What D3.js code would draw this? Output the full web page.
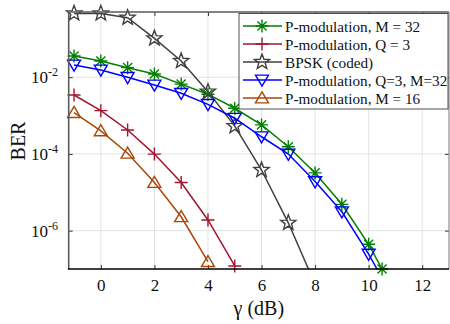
<!DOCTYPE html>
<html><head><meta charset="utf-8">
<script src="https://cdn.jsdelivr.net/npm/d3@7"></script>
<style>body{margin:0;background:#fff}svg{display:block}text{font-family:"Liberation Serif","Times New Roman",serif}</style>
</head><body>
<svg id="c" width="450" height="324"></svg>
<script>
// ---- data ----
const xTicks = [0, 2, 4, 6, 8, 10, 12];
const yTickExps = [-2, -4, -6];
const seriesNames = ["P-modulation, M = 32", "P-modulation, Q = 3", "BPSK (coded)", "P-modulation, Q=3, M=32", "P-modulation, M = 16"];
const seriesColors = ["#008000", "#A2142F", "#404040", "#0000FF", "#A84708"];
const seriesMarkers = ["asterisk", "plus", "star", "triDown", "triUp"];

const xM32 = [-1, 0, 1, 2, 3, 4, 5, 6, 7, 8, 9, 10, 10.5];
const yM32 = [0.0356, 0.0264, 0.0177, 0.0121, 6.6e-3, 3.6e-3, 1.55e-3, 5.7e-4, 1.54e-4, 3.2e-5, 4.85e-6, 4.4e-7, 1.0e-7];
const xQ3 = [-1, 0, 1, 2, 3, 4, 5];
const yQ3 = [3.43e-3, 1.34e-3, 4.2e-4, 9.9e-5, 1.8e-5, 1.9e-6, 1.2e-7];
const xBPSK = [-1, 0, 1, 2, 3, 4, 5, 6, 7, 8];
const yBPSK = [0.46, 0.46, 0.355, 0.103, 0.0264, 4.2e-3, 5.3e-4, 3.8e-5, 1.6e-6, 4e-8];
const xQ3M32 = [-1, 0, 1, 2, 3, 4, 5, 6, 7, 8, 9, 10, 10.5];
const yQ3M32 = [0.0208, 0.0154, 9.9e-3, 6.25e-3, 3.8e-3, 1.96e-3, 8.5e-4, 2.8e-4, 9.9e-5, 1.9e-5, 3.1e-6, 2.45e-7, 5.8e-8];
const xM16 = [-1, 0, 1, 2, 3, 4];
const yM16 = [1.19e-3, 4.0e-4, 1.04e-4, 1.8e-5, 2.3e-6, 1.55e-7];

const seriesX = [xM32, xQ3, xBPSK, xQ3M32, xM16];
const seriesY = [yM32, yQ3, yBPSK, yQ3M32, yM16];

// ---- layout ----
const L = 68.7, R = 449, T = 12, B = 269;
const svg = d3.select("#c");
const x = d3.scaleLinear().domain([-1.2, 13]).range([L, R]);
const y = d3.scaleLog().domain([1e-7, 0.5]).range([B, T]);

svg.append("defs").append("clipPath").attr("id", "clip")
  .append("rect").attr("x", L).attr("y", T).attr("width", R - L).attr("height", B - T);

// grid
const g = svg.append("g");
g.selectAll(".gx").data(xTicks).join("line")
  .attr("x1", d => x(d)).attr("x2", d => x(d)).attr("y1", T).attr("y2", B)
  .attr("stroke", "#e3e3e3").attr("stroke-width", 1);
g.selectAll(".gy").data(yTickExps).join("line")
  .attr("x1", L).attr("x2", R).attr("y1", d => y(Math.pow(10, d))).attr("y2", d => y(Math.pow(10, d)))
  .attr("stroke", "#e3e3e3").attr("stroke-width", 1);

// axes via d3
const axB = d3.axisBottom(x).tickValues(xTicks).tickSizeInner(-4).tickSizeOuter(0).tickPadding(10).tickFormat(d3.format("d"));
const gB = svg.append("g").attr("transform", `translate(0,${B})`).call(axB);
gB.select(".domain").remove();
gB.selectAll("line").attr("stroke", "#333").attr("stroke-width", 1);
gB.selectAll("text").attr("font-size", 17).attr("fill", "#111").attr("font-family", '"Liberation Serif",serif');

const axT = d3.axisTop(x).tickValues(xTicks).tickSizeInner(-4).tickSizeOuter(0).tickFormat("");
const gT = svg.append("g").attr("transform", `translate(0,${T})`).call(axT);
gT.select(".domain").remove();
gT.selectAll("line").attr("stroke", "#333").attr("stroke-width", 1);

const yTickVals = yTickExps.map(e => Math.pow(10, e));
const axL = d3.axisLeft(y).tickValues(yTickVals).tickSizeInner(-4).tickSizeOuter(0).tickFormat("");
const gL = svg.append("g").attr("transform", `translate(${L},0)`).call(axL);
gL.select(".domain").remove();
gL.selectAll("line").attr("stroke", "#333").attr("stroke-width", 1);
const axR = d3.axisRight(y).tickValues(yTickVals).tickSizeInner(-4).tickSizeOuter(0).tickFormat("");
const gR = svg.append("g").attr("transform", `translate(${R},0)`).call(axR);
gR.select(".domain").remove();
gR.selectAll("line").attr("stroke", "#333").attr("stroke-width", 1);

// y tick labels with superscript
const yl = svg.append("g").selectAll("text").data(yTickExps).join("text")
  .attr("x", 58).attr("y", d => y(Math.pow(10, d)) + 6)
  .attr("text-anchor", "end").attr("font-size", 17).attr("fill", "#111");
yl.append("tspan").text("10");
yl.append("tspan").attr("dy", -7).attr("font-size", 12).text(d => "-" + Math.abs(d));

// series
const sym = {
  asterisk: s => `M${-s},0L${s},0M0,${-s}L0,${s}M${-s*0.7},${-s*0.7}L${s*0.7},${s*0.7}M${-s*0.7},${s*0.7}L${s*0.7},${-s*0.7}`,
  plus: s => `M${-s},0L${s},0M0,${-s}L0,${s}`,
  star: s => { let p = ""; for (let i = 0; i < 10; i++) { const r = i % 2 ? s * 0.42 : s; const a = -Math.PI / 2 + i * Math.PI / 5; p += (i ? "L" : "M") + (r * Math.cos(a)).toFixed(2) + "," + (r * Math.sin(a)).toFixed(2); } return p + "Z"; },
  triDown: s => `M${-s},${-s*0.75}L${s},${-s*0.75}L0,${s*0.95}Z`,
  triUp: s => `M${-s},${s*0.75}L${s},${s*0.75}L0,${-s*0.95}Z`
};
const msize = { asterisk: 6.5, plus: 6.5, star: 8, triDown: 6.5, triUp: 6.5 };

const line = d3.line().x(d => x(d[0])).y(d => y(d[1]));
seriesNames.forEach((name, i) => {
  const pts = seriesX[i].map((v, j) => [v, seriesY[i][j]]);
  const sg = svg.append("g");
  sg.append("path").attr("d", line(pts)).attr("fill", "none").attr("stroke", seriesColors[i])
    .attr("stroke-width", 1.5).attr("clip-path", "url(#clip)");
  const m = seriesMarkers[i];
  sg.selectAll("path.m").data(pts.filter(d => d[1] >= 0.999e-7)).join("path").attr("class", "m")
    .attr("transform", d => `translate(${x(d[0])},${y(d[1])})`)
    .attr("d", sym[m](msize[m])).attr("fill", "none").attr("stroke", seriesColors[i])
    .attr("stroke-width", 1.4).attr("stroke-linejoin", "miter");
});

// box
svg.append("line").attr("x1", L).attr("x2", R).attr("y1", T).attr("y2", T).attr("stroke", "#5a5a5a").attr("stroke-width", 1.6);
svg.append("line").attr("x1", R).attr("x2", R).attr("y1", T).attr("y2", B).attr("stroke", "#8c8c8c").attr("stroke-width", 1.2);
svg.append("line").attr("x1", L).attr("x2", L).attr("y1", T).attr("y2", B).attr("stroke", "#5a5a5a").attr("stroke-width", 1.6);
svg.append("line").attr("x1", L - 0.8).attr("x2", R).attr("y1", B).attr("y2", B).attr("stroke", "#000").attr("stroke-width", 1.5);

// legend
const lg = svg.append("g");
lg.append("rect").attr("x", 239).attr("y", 13.5).attr("width", 209).attr("height", 95.5)
  .attr("fill", "#fff").attr("stroke", "#262626").attr("stroke-width", 0.8);
seriesNames.forEach((name, i) => {
  const yy = 26 + i * 18;
  lg.append("line").attr("x1", 243).attr("x2", 282).attr("y1", yy).attr("y2", yy)
    .attr("stroke", seriesColors[i]).attr("stroke-width", 1.5);
  const m = seriesMarkers[i];
  lg.append("path").attr("transform", `translate(262,${yy})`).attr("d", sym[m](msize[m]))
    .attr("fill", "none").attr("stroke", seriesColors[i]).attr("stroke-width", 1.4);
  lg.append("text").attr("x", 285).attr("y", yy + 5.5).attr("font-size", 15.2).attr("fill", "#111").text(name);
});

// axis labels
svg.append("text").attr("x", (L + R) / 2).attr("y", 315).attr("text-anchor", "middle")
  .attr("font-size", 20).attr("fill", "#111").text("γ (dB)");
svg.append("text").attr("transform", `translate(25,141) rotate(-90)`).attr("text-anchor", "middle")
  .attr("font-size", 20).attr("fill", "#111").text("BER");
</script>
</body></html>
